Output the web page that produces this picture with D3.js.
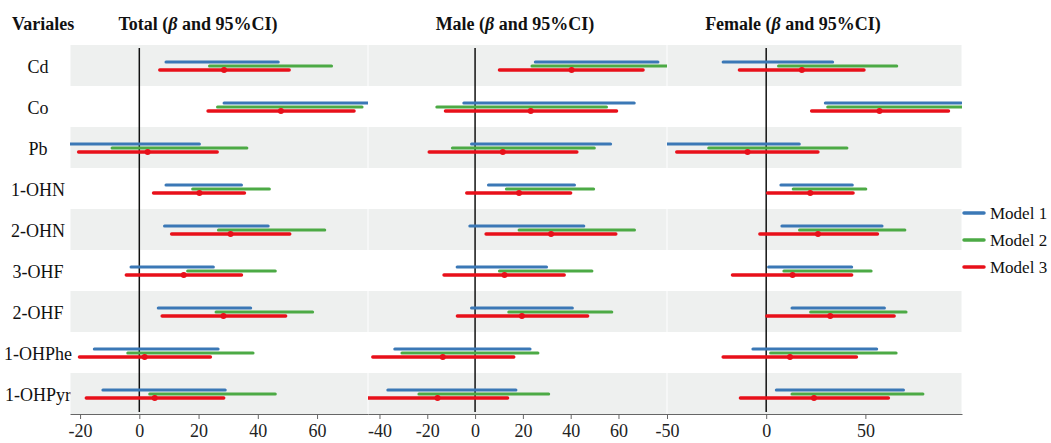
<!DOCTYPE html>
<html>
<head>
<meta charset="utf-8">
<script src="https://cdn.jsdelivr.net/npm/d3@7"></script>
<style>
  html, body { margin: 0; padding: 0; background: #fff; }
  svg { display: block; }
</style>
</head>
<body>
<div id="chart"></div>
<script>
// forest plot: beta and 95% CI by exposure, three models, three strata
const variables = ["Cd", "Co", "Pb", "1-OHN", "2-OHN", "3-OHF", "2-OHF", "1-OHPhe", "1-OHPyr"];
const models = ["Model 1", "Model 2", "Model 3"];
const panelNames = ["Total", "Male", "Female"];

// [lower, upper] per variable
const totalM1 = [[9.0, 46.9], [28.6, 78.5], [-24.5, 20.3], [9.0, 34.5], [8.5, 43.5], [-2.8, 25.0], [6.4, 37.6], [-15.2, 26.6], [-12.3, 29.0]];
const totalM2 = [[23.7, 64.9], [26.4, 75.2], [-9.2, 36.3], [18.0, 43.9], [26.7, 62.6], [16.3, 45.9], [25.9, 58.5], [-3.9, 38.4], [3.5, 45.9]];
const totalM3 = [[6.9, 50.6], [23.2, 72.5], [-20.5, 26.3], [4.8, 35.5], [10.9, 50.8], [-4.4, 34.5], [7.7, 49.4], [-20.2, 24.0], [-17.9, 28.5]];
const totalEst = [28.6, 47.8, 2.8, 20.3, 30.8, 15.0, 28.4, 1.8, 5.2];

const maleM1 = [[25.2, 76.5], [-4.7, 66.6], [-1.5, 56.7], [5.6, 41.6], [-2.2, 45.5], [-7.5, 29.9], [-1.5, 40.7], [-33.6, 23.0], [-36.5, 17.1]];
const maleM2 = [[23.8, 81.0], [-16.0, 55.0], [-9.5, 49.9], [13.1, 49.6], [18.4, 66.7], [10.2, 48.9], [14.1, 57.2], [-30.6, 26.3], [-23.5, 30.8]];
const maleM3 = [[10.2, 70.3], [-12.4, 59.2], [-19.2, 42.6], [-3.5, 40.0], [4.6, 58.9], [-13.0, 37.3], [-7.4, 47.1], [-42.8, 16.2], [-44.7, 13.6]];
const maleEst = [40.4, 23.3, 11.6, 18.4, 31.8, 12.3, 19.6, -13.5, -15.7];

const femaleM1 = [[-21.7, 33.5], [29.8, 98.3], [-50.5, 16.7], [7.4, 43.4], [7.9, 58.4], [1.2, 43.1], [13.0, 59.6], [-6.7, 55.7], [5.1, 69.2]];
const femaleM2 = [[6.2, 65.8], [31.0, 100.0], [-29.0, 40.7], [13.6, 50.2], [16.8, 69.9], [8.9, 52.9], [22.4, 70.5], [2.2, 65.5], [13.0, 79.0]];
const femaleM3 = [[-13.5, 49.3], [22.9, 91.9], [-45.1, 26.1], [0.7, 43.8], [-3.2, 56.1], [-17.0, 43.1], [0.3, 64.5], [-21.7, 45.5], [-13.0, 61.6]];
const femaleEst = [18.0, 57.1, -9.4, 22.2, 26.1, 13.3, 32.3, 12.0, 24.1];

const totalTicks = [-20, 0, 20, 40, 60];
const maleTicks = [-40, -20, 0, 20, 40, 60];
const femaleTicks = [-50, 0, 50];

const width = 1051;
const height = 443;
const colors = ["#3b78b6", "#4caa45", "#e8101a"];
const font = "'Liberation Serif', 'Times New Roman', serif";
const fontSize = 18;

const panels = [
  { name: panelNames[0], domain: [-23.4, 77.2], range: [70, 368], ticks: totalTicks, ci: [totalM1, totalM2, totalM3], est: totalEst, titleX: 198 },
  { name: panelNames[1], domain: [-44.8, 80.3], range: [368, 667], ticks: maleTicks, ci: [maleM1, maleM2, maleM3], est: maleEst, titleX: 515 },
  { name: panelNames[2], domain: [-50, 98.7], range: [667, 962], ticks: femaleTicks, ci: [femaleM1, femaleM2, femaleM3], est: femaleEst, titleX: 793 }
];

const plotTop = 45;
const plotBottom = 414;

const svg = d3.select("#chart").append("svg")
  .attr("width", width)
  .attr("height", height)
  .style("font-family", font);

const y = d3.scaleBand()
  .domain(variables)
  .range([plotTop, plotBottom]);

const lineOffset = [-3.5, 0.5, 4.5];

// header
svg.append("text")
  .attr("x", 12)
  .attr("y", 30)
  .attr("font-size", fontSize)
  .attr("font-weight", "bold")
  .attr("fill", "#111")
  .text("Variales");

// row labels
svg.append("g")
  .selectAll("text")
  .data(variables)
  .join("text")
  .attr("x", 38)
  .attr("y", d => y(d) + y.bandwidth() / 2 + 1)
  .attr("text-anchor", "middle")
  .attr("dominant-baseline", "central")
  .attr("font-size", fontSize)
  .attr("fill", "#111")
  .text(d => d);

const defs = svg.append("defs");

panels.forEach((p, pi) => {
  const x = d3.scaleLinear().domain(p.domain).range(p.range);
  const g = svg.append("g");

  // alternating row bands
  g.append("g")
    .selectAll("rect")
    .data(variables.filter((d, i) => i % 2 === 0))
    .join("rect")
    .attr("x", p.range[0] + 0.5)
    .attr("y", d => y(d))
    .attr("width", p.range[1] - p.range[0] - 1)
    .attr("height", y.bandwidth())
    .attr("fill", "#eef0ef");

  // title
  const title = svg.append("text")
    .attr("x", p.titleX)
    .attr("y", 30)
    .attr("text-anchor", "middle")
    .attr("font-size", fontSize)
    .attr("font-weight", "bold")
    .attr("fill", "#111");
  title.append("tspan").text(p.name + " (");
  title.append("tspan").attr("font-style", "italic").text("β");
  title.append("tspan").text(" and 95%CI)");

  // axis
  g.append("g")
    .attr("transform", `translate(0,${plotBottom})`)
    .call(d3.axisBottom(x).tickValues(p.ticks).tickFormat(d => String(d))
      .tickSize(5).tickSizeOuter(0).tickPadding(5))
    .call(sel => sel.selectAll("text").attr("font-size", fontSize).attr("font-family", font).attr("fill", "#222"))
    .call(sel => sel.selectAll("line, path").attr("stroke", "#666"));

  // zero reference
  g.append("line")
    .attr("x1", x(0))
    .attr("x2", x(0))
    .attr("y1", 48)
    .attr("y2", 412)
    .attr("stroke", "#111")
    .attr("stroke-width", 1.5);

  const clipId = "clip" + pi;
  defs.append("clipPath").attr("id", clipId)
    .append("rect")
    .attr("x", p.range[0])
    .attr("y", plotTop)
    .attr("width", p.range[1] - p.range[0])
    .attr("height", plotBottom - plotTop);

  const marks = g.append("g").attr("clip-path", `url(#${clipId})`);

  p.ci.forEach((series, mi) => {
    marks.append("g")
      .selectAll("line")
      .data(series)
      .join("line")
      .attr("x1", d => x(d[0]))
      .attr("x2", d => x(d[1]))
      .attr("y1", (d, i) => y(variables[i]) + y.bandwidth() / 2 + lineOffset[mi])
      .attr("y2", (d, i) => y(variables[i]) + y.bandwidth() / 2 + lineOffset[mi])
      .attr("stroke", colors[mi])
      .attr("stroke-width", mi === 2 ? 3.4 : 3)
      .attr("stroke-linecap", "round");
  });

  marks.append("g")
    .selectAll("circle")
    .data(p.est)
    .join("circle")
    .attr("cx", d => x(d))
    .attr("cy", (d, i) => y(variables[i]) + y.bandwidth() / 2 + lineOffset[2])
    .attr("r", 3)
    .attr("fill", colors[2]);
});

// legend
const legend = svg.append("g")
  .attr("transform", "translate(964,213)");

const item = legend.selectAll("g")
  .data(models)
  .join("g")
  .attr("transform", (d, i) => `translate(0,${i * 27})`);

item.append("line")
  .attr("x1", 0)
  .attr("x2", 20)
  .attr("stroke", (d, i) => colors[i])
  .attr("stroke-width", 3.5)
  .attr("stroke-linecap", "round");

item.append("text")
  .attr("x", 26)
  .attr("dominant-baseline", "central")
  .attr("font-size", 17)
  .attr("fill", "#111")
  .text(d => d);
</script>
</body>
</html>
